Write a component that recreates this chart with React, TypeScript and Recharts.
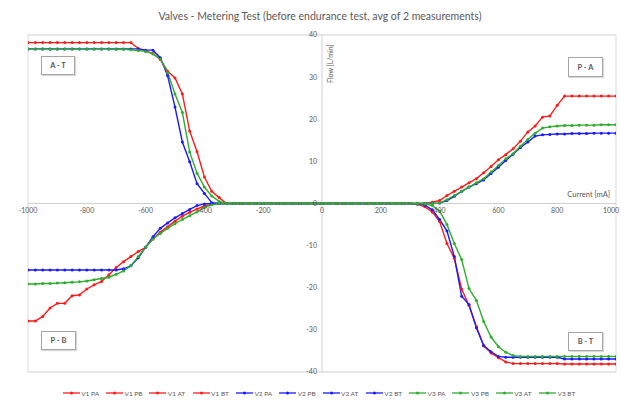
import React from 'react';
import { LineChart, Line, XAxis, YAxis, CartesianGrid, ReferenceLine, ReferenceDot } from 'recharts';

// ---------- categories / axes ----------
const negCurrents = [-1000, -975, -950, -925, -900, -875, -850, -825, -800, -775, -750, -725, -700, -675, -650, -625, -600, -575, -550, -525, -500, -475, -450, -425, -400, -375, -350, -325, -300, -275, -250, -225, -200, -175, -150, -125, -100, -75, -50, -25, 0];
const posCurrents = [0, 25, 50, 75, 100, 125, 150, 175, 200, 225, 250, 275, 300, 325, 350, 375, 400, 425, 450, 475, 500, 525, 550, 575, 600, 625, 650, 675, 700, 725, 750, 775, 800, 825, 850, 875, 900, 925, 950, 975, 1000];
const xTickLabels = [-1000, -800, -600, -400, -200, 0, 200, 400, 600, 800, 1000];
const yTickLabels = [-40, -30, -20, -10, 0, 10, 20, 30, 40];
const xGridValues = [-1000, -900, -800, -700, -600, -500, -400, -300, -200, -100, 0, 100, 200, 300, 400, 500, 600, 700, 800, 900, 1000];
const yMajorGrid = [-40, -30, -20, -10, 0, 10, 20, 30, 40];
const yMinorGrid = [-40, -38, -36, -34, -32, -30, -28, -26, -24, -22, -20, -18, -16, -14, -12, -10, -8, -6, -4, -2, 0, 2, 4, 6, 8, 10, 12, 14, 16, 18, 20, 22, 24, 26, 28, 30, 32, 34, 36, 38, 40];

// ---------- series values ----------
// P-A (0..1000 mA)
const v1PA = [0, 0, 0, 0, 0, 0, 0, 0, 0, 0, 0, 0, 0, 0, 0, 0.3, 0.7, 1.9, 2.9, 3.9, 4.9, 5.9, 7.3, 8.8, 10.4, 11.6, 13.0, 14.8, 17.0, 18.4, 20.5, 20.8, 23.3, 25.5, 25.5, 25.5, 25.5, 25.5, 25.5, 25.5, 25.5];
const v2PA = [0, 0, 0, 0, 0, 0, 0, 0, 0, 0, 0, 0, 0, 0, 0, 0, 0.1, 0.7, 1.7, 2.9, 3.9, 4.7, 5.6, 7.1, 8.6, 10.2, 11.7, 13.3, 14.6, 16.0, 16.3, 16.4, 16.5, 16.5, 16.6, 16.6, 16.6, 16.7, 16.7, 16.7, 16.7];
const v3PA = [0, 0, 0, 0, 0, 0, 0, 0, 0, 0, 0, 0, 0, 0, 0, 0, 0.1, 0.9, 1.9, 2.9, 3.9, 4.9, 5.9, 7.5, 9.0, 10.6, 11.8, 13.6, 15.2, 16.7, 17.9, 18.2, 18.4, 18.5, 18.5, 18.6, 18.6, 18.6, 18.7, 18.7, 18.7];
// P-B (-1000..0 mA)
const v1PB = [-27.9, -27.9, -26.8, -24.8, -23.7, -23.7, -21.9, -21.7, -20.3, -19.3, -18.5, -16.9, -15.2, -13.8, -12.6, -11.4, -10.4, -8.4, -6.8, -5.5, -4.2, -3.0, -2.1, -1.3, -0.6, -0.2, 0, 0, 0, 0, 0, 0, 0, 0, 0, 0, 0, 0, 0, 0, 0];
const v2PB = [-15.8, -15.8, -15.8, -15.8, -15.8, -15.8, -15.8, -15.8, -15.8, -15.8, -15.8, -15.8, -15.8, -15.5, -14.8, -12.9, -10.4, -7.9, -5.9, -4.6, -3.4, -2.4, -1.4, -0.5, -0.1, 0, 0, 0, 0, 0, 0, 0, 0, 0, 0, 0, 0, 0, 0, 0, 0];
const v3PB = [-19.1, -19.1, -19.0, -19.0, -18.9, -18.8, -18.7, -18.6, -18.4, -18.1, -17.8, -17.5, -16.8, -16.0, -14.8, -12.6, -10.4, -8.4, -7.1, -5.9, -4.8, -3.8, -2.9, -2.0, -1.0, -0.3, 0, 0, 0, 0, 0, 0, 0, 0, 0, 0, 0, 0, 0, 0, 0];
// A-T (-1000..0 mA)
const v1AT = [38.2, 38.2, 38.2, 38.2, 38.2, 38.2, 38.2, 38.2, 38.2, 38.2, 38.2, 38.2, 38.2, 38.2, 38.2, 36.8, 36.2, 35.6, 34.2, 31.4, 29.8, 26.0, 17.2, 12.3, 6.3, 2.9, 1.4, 0, 0, 0, 0, 0, 0, 0, 0, 0, 0, 0, 0, 0, 0];
const v2AT = [36.7, 36.7, 36.7, 36.7, 36.7, 36.7, 36.7, 36.7, 36.7, 36.7, 36.7, 36.7, 36.7, 36.7, 36.7, 36.7, 36.4, 36.4, 34.6, 30.3, 22.9, 14.6, 9.9, 4.7, 2.4, 0.2, 0, 0, 0, 0, 0, 0, 0, 0, 0, 0, 0, 0, 0, 0, 0];
const v3AT = [36.7, 36.7, 36.7, 36.7, 36.7, 36.7, 36.7, 36.7, 36.7, 36.7, 36.7, 36.7, 36.6, 36.6, 36.5, 36.3, 36.1, 35.5, 34.3, 31.1, 26.0, 21.6, 12.2, 7.2, 3.9, 1.8, 0.5, 0, 0, 0, 0, 0, 0, 0, 0, 0, 0, 0, 0, 0, 0];
// B-T (0..1000 mA)
const v1BT = [0, 0, 0, 0, 0, 0, 0, 0, 0, 0, 0, 0, 0, -0.2, -0.8, -2.0, -4.3, -9.5, -13.0, -20.3, -24.2, -29.2, -33.8, -35.5, -36.6, -37.6, -38.0, -38.0, -38.0, -38.0, -38.0, -38.0, -38.0, -38.1, -38.1, -38.1, -38.1, -38.1, -38.1, -38.1, -38.1];
const v2BT = [0, 0, 0, 0, 0, 0, 0, 0, 0, 0, 0, 0, 0, -0.1, -0.4, -1.5, -3.8, -6.5, -12.6, -22.0, -24.0, -29.5, -33.7, -35.2, -36.3, -36.5, -36.5, -36.5, -36.5, -36.5, -36.5, -36.5, -36.5, -36.9, -36.9, -36.9, -36.9, -36.9, -36.9, -36.9, -36.9];
const v3BT = [0, 0, 0, 0, 0, 0, 0, 0, 0, 0, 0, 0, 0, 0, -0.1, -0.5, -1.8, -5.0, -9.5, -13.3, -20.2, -23.0, -28.0, -31.7, -34.0, -35.3, -36.1, -36.3, -36.3, -36.3, -36.3, -36.3, -36.3, -36.3, -36.3, -36.3, -36.3, -36.3, -36.3, -36.3, -36.3];

const RED = '#FF1A1A';
const BLUE = '#1A1AFF';
const GREEN = '#2EAD2E';
const TEXT = '#595959';
const FONT = 'Lato, "Liberation Sans", sans-serif';

const series = [
  { name: 'V1 PA', color: RED, xs: posCurrents, ys: v1PA },
  { name: 'V1 PB', color: RED, xs: negCurrents, ys: v1PB },
  { name: 'V1 AT', color: RED, xs: negCurrents, ys: v1AT },
  { name: 'V1 BT', color: RED, xs: posCurrents, ys: v1BT },
  { name: 'V2 PA', color: BLUE, xs: posCurrents, ys: v2PA },
  { name: 'V2 PB', color: BLUE, xs: negCurrents, ys: v2PB },
  { name: 'V2 AT', color: BLUE, xs: negCurrents, ys: v2AT },
  { name: 'V2 BT', color: BLUE, xs: posCurrents, ys: v2BT },
  { name: 'V3 PA', color: GREEN, xs: posCurrents, ys: v3PA },
  { name: 'V3 PB', color: GREEN, xs: negCurrents, ys: v3PB },
  { name: 'V3 AT', color: GREEN, xs: negCurrents, ys: v3AT },
  { name: 'V3 BT', color: GREEN, xs: posCurrents, ys: v3BT },
];

const quadrantBoxes = [
  { label: 'A - T', left: 41, top: 56, width: 34, height: 19 },
  { label: 'P - A', left: 568, top: 57, width: 35, height: 20 },
  { label: 'P - B', left: 41, top: 331, width: 35, height: 19 },
  { label: 'B - T', left: 568, top: 332, width: 35, height: 19 },
];

const tickLabelStyle = { fill: TEXT, fontSize: 7, fontFamily: FONT };

export default function App() {
  return (
    <div style={{ position: 'absolute', left: 0, top: 0, width: 621, height: 405, background: '#fff', fontFamily: FONT }}>
      <div style={{ position: 'absolute', left: 0, top: 10, width: 640, textAlign: 'center', fontSize: 10.5, color: TEXT }}>
        Valves - Metering Test (before endurance test, avg of 2 measurements)
      </div>
      <LineChart width={621} height={405} margin={{ top: 35, right: 5, bottom: 33, left: 28 }}>
        <XAxis xAxisId={0} type="number" dataKey="x" domain={[-1000, 1000]} ticks={xGridValues} interval={0} height={0} tick={false} axisLine={false} tickLine={false} allowDataOverflow />
        <YAxis yAxisId={0} type="number" domain={[-40, 40]} ticks={yMajorGrid} interval={0} width={0} tick={false} axisLine={false} tickLine={false} allowDataOverflow />
        <YAxis yAxisId="minor" type="number" domain={[-40, 40]} ticks={yMinorGrid} interval={0} width={0} tick={false} axisLine={false} tickLine={false} allowDataOverflow />
        <CartesianGrid xAxisId={0} yAxisId="minor" vertical={false} stroke="#ececec" strokeWidth={1} />
        <CartesianGrid xAxisId={0} yAxisId={0} stroke="#dadada" strokeWidth={1} />
        <ReferenceLine xAxisId={0} yAxisId={0} x={0} stroke="#cfcfcf" strokeWidth={1} />
        <ReferenceLine xAxisId={0} yAxisId={0} y={0} stroke="#cfcfcf" strokeWidth={1} />
        {xTickLabels.map((v) => (
          <ReferenceDot key={'xt' + v} xAxisId={0} yAxisId={0} x={v} y={0} r={0} fill="none" stroke="none"
            label={{ value: String(v), position: 'bottom', offset: 5, dx: v === 1000 ? -5 : 0, ...tickLabelStyle }} />
        ))}
        {yTickLabels.map((v) => (
          <ReferenceDot key={'yt' + v} xAxisId={0} yAxisId={0} x={0} y={v} r={0} fill="none" stroke="none"
            label={{ value: String(v), position: 'left', offset: 5, ...tickLabelStyle }} />
        ))}
        {series.map((s) => (
          <Line
            key={s.name}
            name={s.name}
            xAxisId={0}
            yAxisId={0}
            data={s.xs.map((x, i) => ({ x, y: s.ys[i] }))}
            dataKey="y"
            type="linear"
            stroke={s.color}
            strokeWidth={1.4}
            dot={{ r: 1.5, fill: s.color, stroke: s.color, strokeWidth: 0 }}
            activeDot={false}
            isAnimationActive={false}
          />
        ))}
      </LineChart>

      {/* axis titles */}
      <div style={{ position: 'absolute', left: 326, top: 47, height: 36, width: 9, writingMode: 'vertical-rl', transform: 'rotate(180deg)', fontSize: 7, color: TEXT, whiteSpace: 'nowrap', lineHeight: '9px' }}>
        Flow [L/min]
      </div>
      <div style={{ position: 'absolute', right: 11, top: 190, fontSize: 7.5, color: TEXT, whiteSpace: 'nowrap', lineHeight: '10px' }}>
        Current [mA]
      </div>

      {/* quadrant labels */}
      {quadrantBoxes.map((b) => (
        <div key={b.label} style={{ position: 'absolute', left: b.left, top: b.top, width: b.width, height: b.height, boxSizing: 'border-box', border: '1px solid #a6a6a6', boxShadow: '1px 1px 1px rgba(0,0,0,0.15)', background: '#fff', display: 'flex', alignItems: 'center', justifyContent: 'center', fontSize: 7.5, fontWeight: 700, color: TEXT, whiteSpace: 'nowrap' }}>
          {b.label}
        </div>
      ))}

      {/* legend */}
      <div style={{ position: 'absolute', left: 0, top: 389, width: 645, display: 'flex', justifyContent: 'center', alignItems: 'center' }}>
        {series.map((s) => (
          <div key={s.name} style={{ display: 'flex', alignItems: 'center', width: 43.3 }}>
            <svg width={17} height={8} style={{ display: 'block' }}>
              <line x1={0} y1={4} x2={17} y2={4} stroke={s.color} strokeWidth={1.3} />
              <circle cx={8.5} cy={4} r={1.5} fill={s.color} />
            </svg>
            <span style={{ fontSize: 6.5, color: TEXT, marginLeft: 1.5, whiteSpace: 'nowrap' }}>{s.name}</span>
          </div>
        ))}
      </div>
    </div>
  );
}
